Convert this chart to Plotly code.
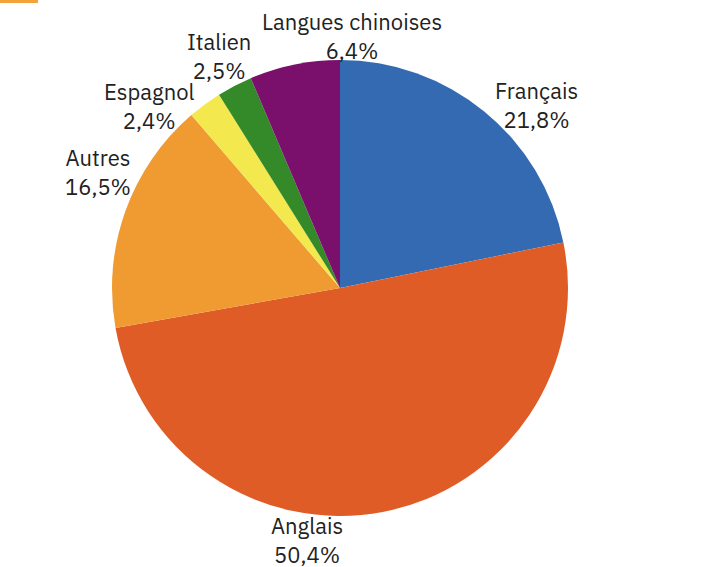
import math
import plotly.graph_objects as go

labels = ["Français", "Anglais", "Autres", "Espagnol", "Italien", "Langues chinoises"]
values = [21.8, 50.4, 16.5, 2.4, 2.5, 6.4]
colors = ["#336AB2", "#E05C26", "#F09A32", "#F3E84E", "#348A29", "#7A106C"]

W, H = 708, 567
L, R, T, B = 112, 140, 60, 51
pw, ph = W - L - R, H - T - B          # square plot area -> pie radius = pw/2
RAD = pw / 2
CX, CY = L + pw / 2, T + ph / 2
FONT = "IBM Plex Sans, Noto Sans, sans-serif"
FS = 22
GAP = 1                # min distance between text and pie edge (px)
LINE_H = 28            # spacing of the two text lines (px)
GLYPH_H = 18           # visual height of one text line (px)
LABEL_POS = 0.6        # where the label sits along each slice's sweep (0..1)
CHAR_W = 0.465 * FS    # letters
DIGIT_W = 0.59 * FS    # digits / percent strings
PAD_X, PAD_Y = 10, 3

fig = go.Figure(go.Pie(
    labels=labels,
    values=values,
    marker=dict(colors=colors, line=dict(width=0)),
    sort=False,
    direction="clockwise",
    rotation=0,
    textinfo="none",
    showlegend=False,
    hoverinfo="skip",
))

total = sum(values)
texts, lines, ang = [], [], []
cum = 0.0
for lab, v in zip(labels, values):
    ang.append((cum + v * LABEL_POS) / total * 360.0)
    cum += v
    pct = f"{v / total * 100:.1f}".replace(".", ",") + "%"
    texts.append(f"{lab}<br>{pct}")
    lines.append((CHAR_W * len(lab), DIGIT_W * len(pct)))


def line_boxes(i, x, y):
    return [(x, y - LINE_H / 2, lines[i][0]), (x, y + LINE_H / 2, lines[i][1])]


def box_dist(bx, by, bw):
    # distance from pie centre to nearest point of a text-line box
    dx = max(abs(bx - CX) - bw / 2, 0)
    dy = max(abs(by - CY) - GLYPH_H / 2, 0)
    return math.hypot(dx, dy)


def centre(i):
    t = math.radians(ang[i])
    s, c = math.sin(t), math.cos(t)
    d = RAD
    while True:
        x, y = CX + d * s, CY - d * c
        if min(box_dist(*b) for b in line_boxes(i, x, y)) >= RAD + GAP:
            return x, y
        d += 0.5


def overlap(i, j):
    for xi, yi, wi in line_boxes(i, *centre(i)):
        for xj, yj, wj in line_boxes(j, *centre(j)):
            if abs(xi - xj) < (wi + wj) / 2 + PAD_X and abs(yi - yj) < GLYPH_H + PAD_Y:
                return True
    return False


# push crowded labels apart along the circle
for _ in range(3000):
    moved = False
    order = sorted(range(len(ang)), key=lambda k: ang[k])
    for i, j in zip(order[:-1], order[1:]):
        if overlap(i, j):
            ang[i] -= 0.2
            ang[j] += 0.2
            moved = True
    if not moved:
        break

annotations = []
for i, text in enumerate(texts):
    px, py = centre(i)
    annotations.append(dict(
        x=(px - L) / pw, y=1 - (py - T) / ph, xref="paper", yref="paper",
        text=text, showarrow=False, xanchor="center", yanchor="middle",
        align="center", font=dict(family=FONT, size=FS, color="#222222"),
    ))

fig.update_layout(
    width=W, height=H,
    margin=dict(l=L, r=R, t=T, b=B, autoexpand=False),
    paper_bgcolor="white",
    annotations=annotations,
    shapes=[dict(type="rect", xref="paper", yref="paper",
                 x0=-L / pw, x1=(38 - L) / pw,
                 y0=1 + (T - 3) / ph, y1=1 + T / ph,
                 fillcolor="#F3A33A", line=dict(width=0))],
)

fig.write_html("out.html", config={"displayModeBar": False},
               post_script="document.body.style.margin='0';")
